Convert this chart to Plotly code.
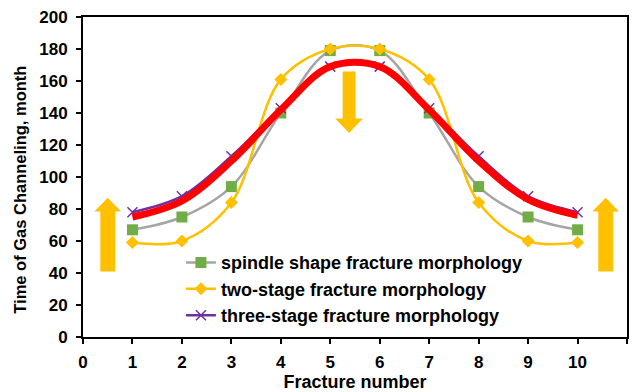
import plotly.graph_objects as go

# Fracture positions along the horizontal well
fracture_no = [1, 2, 3, 4, 5, 6, 7, 8, 9, 10]

# Gas channeling time (months) for each fracture morphology
spindle = [67, 75, 94, 140, 179, 179, 140, 94, 75, 67]
two_stage = [59, 60, 84, 161, 180, 180, 161, 84, 60, 59]
three_stage = [78, 88, 113, 143, 169, 169, 143, 113, 88, 78]
# Trend of the optimized (three-stage) design
optimized = [75, 85, 110, 142, 169, 169, 142, 110, 86, 76]

YELLOW = "#FFC000"
BASE = dict(family="Arial, Liberation Sans", color="black", weight="bold")
TICK_FONT = dict(BASE, size=17)
LEGEND_FONT = dict(BASE, size=18)

fig = go.Figure()

fig.add_trace(go.Scatter(
    x=fracture_no, y=spindle, mode="lines+markers",
    name="spindle shape fracture morphology",
    line=dict(color="#A5A5A5", width=2.5, shape="spline", smoothing=1),
    marker=dict(symbol="square", size=11, color="#70AD47"),
))
fig.add_trace(go.Scatter(
    x=fracture_no, y=two_stage, mode="lines+markers",
    name="two-stage fracture morphology",
    line=dict(color=YELLOW, width=2.5, shape="spline", smoothing=1),
    marker=dict(symbol="diamond", size=10, color=YELLOW),
))
fig.add_trace(go.Scatter(
    x=fracture_no, y=three_stage, mode="lines+markers",
    name="three-stage fracture morphology",
    line=dict(color="#7030A0", width=2.5, shape="spline", smoothing=1),
    marker=dict(symbol="x-thin", size=10, color="#7030A0",
                line=dict(color="#7030A0", width=1.5)),
))
fig.add_trace(go.Scatter(
    x=fracture_no, y=optimized, mode="lines",
    line=dict(color="#FF0000", width=7, shape="spline", smoothing=1),
    showlegend=False,
))


def up_arrow(xc, y0, y1, hw_shaft, hw_head, head_len):
    return (f"M {xc-hw_shaft},{y0} L {xc-hw_shaft},{y1-head_len} L {xc-hw_head},{y1-head_len} "
            f"L {xc},{y1} L {xc+hw_head},{y1-head_len} L {xc+hw_shaft},{y1-head_len} "
            f"L {xc+hw_shaft},{y0} Z")


def down_arrow(xc, y0, y1, hw_shaft, hw_head, head_len):
    return (f"M {xc-hw_shaft},{y0} L {xc-hw_shaft},{y1+head_len} L {xc-hw_head},{y1+head_len} "
            f"L {xc},{y1} L {xc+hw_head},{y1+head_len} L {xc+hw_shaft},{y1+head_len} "
            f"L {xc+hw_shaft},{y0} Z")


arrow_style = dict(type="path", xref="x", yref="y", fillcolor=YELLOW,
                   line=dict(width=0), layer="above")
fig.add_shape(path=up_arrow(0.50, 41, 87, 0.15, 0.27, 8.5), **arrow_style)
fig.add_shape(path=up_arrow(10.57, 41, 87, 0.15, 0.27, 8.5), **arrow_style)
fig.add_shape(path=down_arrow(5.38, 166, 127.5, 0.13, 0.28, 9), **arrow_style)

# Vertical axis title, placed slightly below the plot-area centre
fig.add_annotation(
    text="Time of Gas Channeling, month", textangle=-90,
    xref="paper", yref="paper", x=-0.116, y=0.46,
    xanchor="center", yanchor="middle", showarrow=False,
    font=dict(BASE, size=16.5),
)

fig.update_layout(
    width=634, height=392,
    margin=dict(l=83, r=7, t=17, b=55),
    paper_bgcolor="white", plot_bgcolor="white",
    font=TICK_FONT,
    legend=dict(x=0.18, y=0.29, xanchor="left", yanchor="top",
                bgcolor="rgba(0,0,0,0)", font=LEGEND_FONT, itemwidth=30,
                tracegroupgap=0),
    xaxis=dict(
        range=[0, 11], dtick=1, tick0=0, automargin=False,
        showline=True, linecolor="black", linewidth=2, mirror=True,
        ticks="outside", ticklen=5, tickwidth=1.5, tickcolor="black",
        ticklabelstandoff=4,
        showgrid=False, zeroline=False, tickfont=TICK_FONT,
        title=dict(text="Fracture number", font=dict(BASE, size=18), standoff=4),
    ),
    yaxis=dict(
        range=[0, 200], dtick=20, automargin=False,
        showline=True, linecolor="black", linewidth=2, mirror=True,
        ticks="outside", ticklen=5, tickwidth=1.5, tickcolor="black",
        ticklabelstandoff=5,
        showgrid=False, zeroline=False, tickfont=TICK_FONT,
    ),
)

fig.write_html("out.html")
